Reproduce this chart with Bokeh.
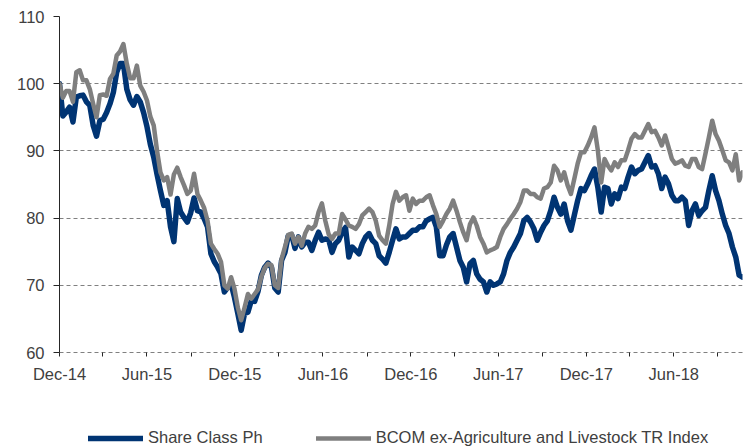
import pandas as pd
from bokeh.plotting import figure
from bokeh.layouts import column
from bokeh.models import Range1d, FixedTicker, DatetimeTickFormatter, Legend, LegendItem
from bokeh.embed import file_html
from bokeh.resources import INLINE

# ---------------- data (weekly, rebased to 100) ----------------
start_date = "2014-12-01"
series_names = ["Share Class Ph", "BCOM ex-Agriculture and Livestock TR Index"]

share_class_ph = [
    100.0, 95.2, 95.8, 96.5, 94.3, 98.0, 98.2, 98.3, 97.3, 96.8,
    93.8, 92.2, 94.5, 94.7, 95.7, 97.0, 98.7, 101.7, 103.0, 103.0,
    99.2, 97.6, 96.8, 98.1, 97.3, 95.7, 93.6, 91.0, 89.1, 86.5,
    84.1, 81.9, 82.6, 78.7, 76.5, 82.9, 80.9, 80.1, 79.4, 80.8,
    83.0, 81.1, 80.9, 79.9, 78.7, 74.7, 73.5, 72.7, 71.7, 69.0,
    69.7, 70.2, 68.2, 65.8, 63.3, 65.8, 66.0, 67.7, 67.6, 69.1,
    71.5, 72.7, 73.3, 72.7, 69.6, 69.0, 73.7, 74.9, 77.4, 77.5,
    75.5, 77.2, 75.7, 76.4, 76.4, 75.2, 76.7, 77.9, 76.7, 76.9,
    76.8, 74.9, 76.2, 76.7, 77.9, 78.6, 74.2, 75.7, 75.2, 74.7,
    76.2, 77.2, 77.7, 76.7, 76.2, 74.4, 73.9, 73.3, 74.9, 76.7,
    78.4, 76.9, 77.2, 77.2, 77.7, 78.2, 78.2, 78.7, 78.7, 79.6,
    79.9, 80.1, 78.7, 74.4, 74.4, 76.0, 77.2, 77.7, 75.7, 73.7,
    72.7, 70.5, 73.2, 73.7, 71.7, 70.9, 70.5, 69.0, 70.5, 70.0,
    70.2, 70.5, 71.7, 73.7, 74.9, 75.7, 76.7, 77.7, 79.6, 80.1,
    79.4, 78.4, 76.7, 77.9, 78.9, 79.6, 81.1, 83.1, 81.6, 80.6,
    82.1, 79.6, 78.2, 80.4, 82.6, 84.4, 84.1, 85.1, 86.3, 87.3,
    84.6, 80.9, 84.6, 84.4, 82.1, 83.6, 82.9, 84.6, 84.4, 86.1,
    87.6, 86.6, 87.1, 87.3, 88.3, 89.3, 87.6, 87.8, 86.6, 84.4,
    86.1, 85.1, 83.4, 82.6, 82.6, 83.1, 82.6, 78.9, 81.1, 82.1,
    80.4, 81.1, 81.6, 84.1, 86.3, 84.1, 82.6, 80.6, 78.9, 77.7,
    75.7, 74.2, 71.5, 71.2,
]

bcom_ex_ag = [
    100.0, 97.9, 98.9, 98.9, 97.3, 101.7, 102.0, 100.5, 100.5, 99.2,
    97.0, 95.0, 98.3, 98.4, 98.2, 100.7, 101.5, 104.2, 104.8, 105.9,
    103.0, 100.8, 100.8, 102.7, 99.7, 98.8, 97.5, 95.1, 93.8, 90.0,
    86.8, 85.6, 86.1, 83.5, 86.5, 87.5, 86.1, 84.9, 83.6, 84.1,
    86.6, 83.6, 82.6, 81.5, 79.6, 76.2, 75.4, 74.7, 73.5, 70.0,
    69.5, 71.2, 69.5, 66.7, 64.8, 66.7, 68.7, 68.0, 68.7, 69.4,
    71.3, 72.6, 73.2, 73.0, 70.0, 69.6, 73.9, 75.7, 77.5, 77.7,
    76.2, 77.2, 75.9, 77.7, 78.7, 78.4, 78.9, 80.9, 82.2, 79.6,
    77.6, 76.9, 77.7, 77.7, 80.6, 79.8, 78.9, 78.7, 78.4, 79.1,
    80.4, 80.9, 81.4, 80.9, 79.6, 77.4, 76.7, 76.2, 78.9, 82.1,
    83.9, 82.6, 83.1, 83.4, 81.1, 82.9, 82.1, 82.6, 82.6, 83.1,
    83.4, 81.9, 80.6, 78.7, 79.6, 80.6, 81.4, 82.6, 81.1, 79.4,
    77.9, 76.7, 79.1, 80.1, 78.9, 77.2, 76.2, 74.9, 75.2, 75.4,
    75.7, 77.2, 78.4, 79.1, 79.9, 80.6, 81.4, 82.4, 84.1, 84.1,
    83.6, 83.6, 83.1, 82.9, 84.4, 84.6, 85.3, 87.8, 87.1, 85.6,
    86.8, 84.9, 83.6, 85.8, 88.1, 89.8, 89.8, 90.8, 92.0, 93.5,
    90.1, 85.3, 88.8, 87.8, 87.1, 88.3, 87.6, 88.6, 88.6, 90.1,
    91.8, 92.5, 92.0, 92.0, 93.0, 94.0, 92.8, 93.0, 92.0, 90.8,
    92.3, 90.6, 88.8, 88.1, 88.3, 88.6, 87.8, 87.6, 88.8, 88.8,
    87.6, 87.3, 89.6, 92.0, 94.5, 92.5, 91.5, 90.1, 88.6, 88.3,
    87.1, 89.5, 85.6, 86.8,
]

major_tick_dates = ["2014-12-01", "2015-06-01", "2015-12-01", "2016-06-01",
                    "2016-12-01", "2017-06-01", "2017-12-01", "2018-06-01"]
minor_tick_dates = ["2015-03-01", "2015-09-01", "2016-03-01", "2016-09-01",
                    "2017-03-01", "2017-09-01", "2018-03-01", "2018-09-01"]
y_ticks = [60, 70, 80, 90, 100, 110]
y_min, y_max = 60, 110

# ---------------- build ----------------
dates = pd.date_range(start_date, periods=len(share_class_ph), freq="7D")


def ms(d):
    return pd.Timestamp(d).value / 1e6


FONT = "Liberation Sans"
TXT = "#404040"
NAVY = "#003473"
GREY = "#7f7f7f"
W = 748

p = figure(width=W, height=400, x_axis_type="datetime",
           output_backend="svg", toolbar_location=None,
           min_border_left=59, min_border_right=6, min_border_top=16,
           min_border_bottom=48)
p.x_range = Range1d(ms(dates[0]), ms(dates[-1]))
p.y_range = Range1d(y_min, y_max)
p.outline_line_color = None
p.background_fill_color = "white"
p.border_fill_color = "white"

line_styles = [dict(line_color=NAVY, line_width=5.5),
               dict(line_color=GREY, line_width=4.5)]

r1 = p.line(dates, share_class_ph, line_join="round", line_cap="round",
            **line_styles[0])
r2 = p.line(dates, bcom_ex_ag, line_join="round", line_cap="round",
            **line_styles[1])

# grid
p.xgrid.visible = False
p.ygrid.ticker = FixedTicker(ticks=y_ticks)
p.ygrid.grid_line_color = "#808080"
p.ygrid.grid_line_dash = "4 3"
p.ygrid.grid_line_width = 1

# y axis
p.yaxis.ticker = FixedTicker(ticks=y_ticks)
p.yaxis.axis_line_color = "#262626"
p.yaxis.major_tick_line_color = "#262626"
p.yaxis.major_tick_out = 6
p.yaxis.major_tick_in = 0
p.yaxis.minor_tick_line_color = None
p.yaxis.major_label_standoff = 9
p.yaxis.major_label_text_font = FONT
p.yaxis.major_label_text_font_size = "16.5px"
p.yaxis.major_label_text_color = TXT

# x axis
p.xaxis.ticker = FixedTicker(ticks=[ms(d) for d in major_tick_dates],
                             minor_ticks=[ms(d) for d in minor_tick_dates])
p.xaxis.formatter = DatetimeTickFormatter(days="%b-%y", months="%b-%y",
                                          years="%b-%y")
p.xaxis.axis_line_color = "#808080"
p.xaxis.axis_line_dash = "4 3"
p.xaxis.major_tick_line_color = "#262626"
p.xaxis.minor_tick_line_color = "#262626"
p.xaxis.major_tick_out = 4
p.xaxis.major_tick_in = 0
p.xaxis.minor_tick_out = 4
p.xaxis.minor_tick_in = 0
p.xaxis.major_label_standoff = 8
p.xaxis.major_label_text_font = FONT
p.xaxis.major_label_text_font_size = "16.5px"
p.xaxis.major_label_text_color = TXT

# ---------------- legend strip (series lines lie outside its range) ----------------
lf = figure(width=W, height=47, output_backend="svg", toolbar_location=None,
            x_axis_location=None, y_axis_location=None,
            min_border_left=0, min_border_right=0, min_border_top=0,
            min_border_bottom=0,
            x_range=Range1d(ms(dates[0]), ms(dates[-1])),
            y_range=Range1d(0, 1))
lf.outline_line_color = None
lf.xgrid.visible = False
lf.ygrid.visible = False
k1 = lf.line(dates, share_class_ph, line_cap="round", **line_styles[0])
k2 = lf.line(dates, bcom_ex_ag, line_cap="round", **line_styles[1])

legend = Legend(items=[LegendItem(label=series_names[0], renderers=[k1]),
                       LegendItem(label=series_names[1], renderers=[k2])],
                orientation="horizontal", location=(29, 0),
                glyph_width=55, glyph_height=16, label_height=16,
                label_standoff=5, spacing=53, padding=0, margin=0,
                border_line_color=None, background_fill_alpha=0,
                label_text_font=FONT, label_text_font_size="16.5px",
                label_text_color=TXT)
lf.add_layout(legend, "center")

layout = column(p, lf, spacing=0)
open("out.html", "w").write(file_html(layout, INLINE))
